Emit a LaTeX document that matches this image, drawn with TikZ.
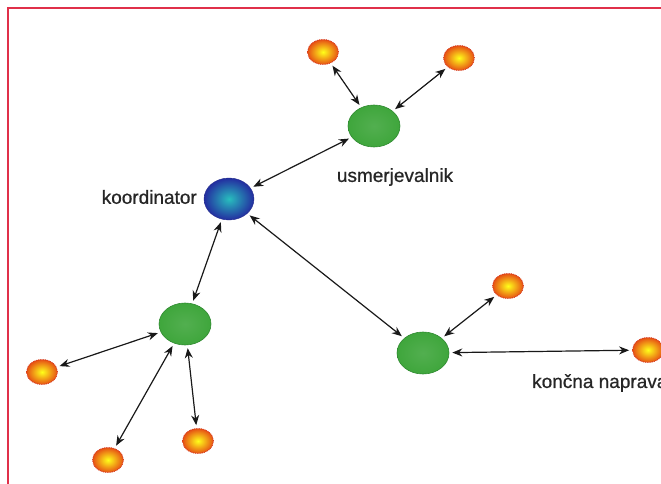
\documentclass[tikz,border=0pt]{standalone}
\usepackage{fontspec}
\setmainfont{Liberation Sans}
\newfontfamily\lblfont[FakeBold=0.7]{Liberation Sans}
\usetikzlibrary{arrows.meta,shapes.geometric}
\definecolor{framered}{HTML}{E0304A}
\definecolor{txt}{HTML}{262626}
\definecolor{grn}{HTML}{3FA63C}
\definecolor{grndark}{HTML}{2F8A30}
\tikzset{
  endnode/.style={ellipse, minimum width=31pt, minimum height=25pt, inner sep=0pt,
    shading=radial, inner color=yellow!90!white, outer color={rgb,255:red,230;green,80;blue,20},
    draw={rgb,255:red,210;green,50;blue,30}, densely dotted, line width=0.8pt},
  routernode/.style={ellipse, minimum width=52pt, minimum height=42pt, inner sep=0pt,
    shading=radial, inner color=grn!90!white, outer color=grn, draw=grndark, line width=0.6pt},
  coordnode/.style={ellipse, minimum width=50pt, minimum height=42pt, inner sep=0pt,
    shading=radial, inner color={rgb,255:red,40;green,190;blue,190}, outer color={rgb,255:red,35;green,45;blue,160},
    draw={rgb,255:red,35;green,45;blue,140}, line width=0.4pt},
  link/.style={{Stealth[length=10pt,width=8pt]}-{Stealth[length=10pt,width=8pt]}, line width=1.2pt, black!90, shorten >=3pt, shorten <=3pt},
  lbl/.style={text=txt, font=\lblfont\fontsize{19}{21}\selectfont, inner sep=0pt}
}
\begin{document}
\begin{tikzpicture}[x=1pt,y=-1pt]
\useasboundingbox (0,0) rectangle (661,484);
\clip (0,0) rectangle (661,484);
\fill[white] (0,0) rectangle (661,484);
\draw[framered, line width=1.5pt] (8,484) -- (8,8) -- (661,8);

\node[coordnode] (k) at (229,199) {};
\node[routernode] (u) at (374,126) {};
\node[routernode] (g1) at (185,324) {};
\node[routernode] (g2) at (423,353) {};
\node[endnode] (o1) at (323,52) {};
\node[endnode] (o2) at (459,58) {};
\node[endnode] (o3) at (508,286) {};
\node[endnode] (o4) at (648,350) {};
\node[endnode] (o5) at (42,372) {};
\node[endnode] (o6) at (108,460) {};
\node[endnode] (o7) at (198,441) {};

\node[lbl, anchor=east] (lk) at (197,197) {koordinator};
\node[lbl] (lu) at (395,177) {usmerjevalnik};
\node[lbl, anchor=west] (lo) at (532,383) {končna naprava};

\draw[link] (k) -- (u);
\draw[link] (u) -- (o1);
\draw[link] (u) -- (o2);
\draw[link] (k) -- (g1);
\draw[link] (k) -- (g2);
\draw[link] (g2) -- (o3);
\draw[link] (g2) -- (o4);
\draw[link] (g1) -- (o5);
\draw[link] (g1) -- (o6);
\draw[link] (g1) -- (o7);
\end{tikzpicture}
\end{document}
